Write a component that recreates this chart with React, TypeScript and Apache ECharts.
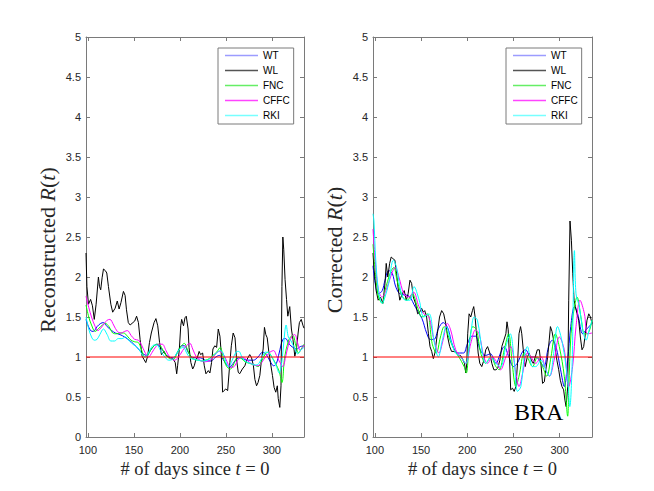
import React, { useEffect, useRef } from "react";
import * as echarts from "echarts";

const X_MIN = 98;
const X_MAX = 335;
const X_TICKS = [100, 150, 200, 250, 300];
const REF_LEVEL = 1;
const SERIES_NAMES = ["WT", "WL", "FNC", "CFFC", "RKI"];
const SERIES_COLORS = ["#0000ff", "#000000", "#00ff00", "#ff00ff", "#00ffff"];
const LEGEND_COLORS = ["#9c9cff", "#555555", "#66ee66", "#ff44ff", "#77ffff"];

// Left panel: reconstructed R(t)
const LEFT_WT: [number, number][] = [[98,1.47],[100,1.40],[103,1.33],[106,1.32],[110,1.38],[114,1.42],[117,1.43],[121,1.38],[126,1.33],[130,1.30],[135,1.28],[140,1.25],[145,1.21],[150,1.16],[155,1.10],[160,1.04],[164,1.02],[168,1.08],[172,1.14],[175,1.16],[179,1.12],[184,1.04],[188,1.0],[193,0.99],[197,1.05],[202,1.14],[205,1.14],[209,1.06],[213,1.0],[218,0.99],[222,0.99],[226,0.97],[230,0.95],[234,0.95],[238,0.99],[243,1.02],[247,0.97],[251,0.90],[254,0.87],[258,0.92],[262,0.98],[266,0.99],[270,0.97],[275,0.96],[280,0.96],[285,1.0],[290,1.06],[294,1.03],[298,0.95],[302,0.89],[305,0.92],[308,1.05],[312,1.22],[315,1.23],[319,1.16],[323,1.12],[327,1.10],[331,1.13],[335,1.14]];
const LEFT_WL: [number, number][] = [[98,2.30],[99,1.88],[100.7,1.66],[103,1.72],[105,1.64],[107,1.47],[109,1.66],[111.5,2.0],[112.7,1.88],[114,1.84],[115.5,1.99],[117,2.10],[119,2.08],[120.6,2.05],[122.4,1.88],[125,1.66],[127,1.56],[129.7,1.61],[132,1.70],[134,1.60],[136,1.68],[138.7,1.82],[140.5,1.77],[142,1.59],[144,1.43],[146,1.40],[149,1.43],[151,1.45],[153,1.51],[155,1.43],[156.8,1.22],[159,1.01],[161,0.97],[163,0.93],[165,1.01],[167,1.18],[169,1.30],[172,1.43],[174,1.48],[176,1.39],[178,1.18],[180,1.03],[183,1.07],[185,1.02],[187.5,1.0],[190,0.99],[193,0.97],[195,0.93],[196.6,0.79],[197.6,0.89],[199.5,1.10],[201,1.39],[202,1.47],[204,1.39],[205.6,1.49],[207,1.51],[209,1.35],[210,1.12],[212,0.93],[214,0.85],[215.7,0.89],[217.5,0.97],[219,0.99],[221,1.07],[222.6,1.03],[224.8,1.05],[226.6,0.89],[228.4,0.79],[231,0.83],[232.7,0.80],[234.5,0.93],[236,1.10],[238,1.14],[240,1.12],[241.8,1.35],[243.6,1.26],[245,1.05],[246.5,0.56],[248,0.58],[250,0.60],[252,0.58],[254.4,0.93],[256,1.14],[258,1.30],[260,1.24],[261.7,0.97],[263.5,0.81],[265,0.79],[268,0.85],[270.7,0.89],[273,0.97],[276,1.03],[278,0.99],[280,0.89],[281.6,0.72],[283.4,0.64],[285,0.68],[287,0.77],[288.8,0.97],[290.6,1.10],[292,1.37],[293.5,1.28],[295,1.24],[296.7,1.07],[298.5,0.93],[300.7,0.77],[302.5,0.62],[304.3,0.56],[306,0.64],[307,0.48],[308.7,0.37],[310,0.64],[311,1.88],[312,2.50],[313,2.34],[314.4,1.97],[316,1.72],[317.4,1.51],[319.5,1.63],[321.3,1.35],[323,1.22],[325,1.01],[326.8,1.10],[328.6,1.30],[330,1.43],[332,1.47],[334,1.39],[335,1.36]];
const LEFT_FNC: [number, number][] = [[98,1.65],[101,1.50],[104,1.40],[108,1.32],[112,1.36],[116,1.40],[119,1.42],[123,1.38],[127,1.30],[131,1.29],[135,1.30],[139,1.30],[143,1.26],[147,1.21],[151,1.19],[155,1.18],[158,1.10],[162,1.0],[165,1.02],[169,1.10],[173,1.15],[177,1.16],[181,1.10],[185,1.02],[189,0.98],[193,0.97],[197,1.05],[201,1.13],[205,1.17],[208,1.10],[212,1.0],[216,0.97],[220,0.96],[224,0.95],[228,0.96],[232,0.98],[236,1.02],[240,1.06],[244,1.12],[247,1.0],[251,0.88],[255,0.85],[259,0.92],[263,1.0],[267,0.98],[271,0.94],[276,0.92],[281,0.90],[285,0.88],[289,0.95],[293,1.04],[296,1.06],[300,1.0],[304,0.92],[308,0.82],[311,0.68],[314,1.0],[318,1.20],[321,1.26],[323,1.27],[326,1.15],[329,1.05],[332,1.10],[335,1.16]];
const LEFT_CFFC: [number, number][] = [[98,1.76],[101,1.62],[104,1.50],[108,1.38],[111,1.33],[114,1.36],[118,1.42],[121,1.46],[124,1.47],[128,1.40],[132,1.32],[136,1.30],[140,1.32],[143,1.33],[147,1.27],[151,1.22],[155,1.21],[158,1.16],[162,1.06],[166,1.0],[170,1.06],[174,1.13],[178,1.16],[181,1.16],[185,1.08],[189,1.0],[194,0.96],[198,0.99],[203,1.08],[207,1.14],[211,1.17],[214,1.10],[218,1.0],[222,0.96],[227,0.94],[231,0.95],[235,0.98],[239,1.04],[243,1.07],[247,1.04],[251,0.95],[255,0.87],[259,0.88],[263,0.96],[267,1.0],[271,0.98],[276,0.93],[281,0.90],[285,0.89],[289,0.93],[293,1.0],[298,1.06],[302,1.08],[305,1.02],[308,0.95],[312,0.88],[315,1.0],[318,1.15],[322,1.26],[325,1.28],[328,1.18],[331,1.08],[335,1.15]];
const LEFT_RKI: [number, number][] = [[98,1.50],[101,1.35],[104,1.25],[107,1.21],[110,1.22],[113,1.28],[117,1.35],[121,1.28],[125,1.20],[129,1.20],[133,1.23],[137,1.23],[141,1.25],[145,1.20],[150,1.15],[154,1.12],[158,1.05],[162,1.0],[165,1.03],[168,1.10],[172,1.15],[175,1.15],[179,1.08],[183,1.01],[188,0.96],[192,0.97],[196,1.03],[200,1.10],[204,1.12],[207,1.06],[211,0.99],[215,0.97],[220,0.96],[225,0.95],[230,0.96],[235,1.0],[240,1.05],[244,1.08],[247,1.05],[250,0.94],[253,0.88],[257,0.96],[261,1.06],[264,1.07],[268,0.99],[272,0.94],[277,0.92],[282,0.90],[286,0.92],[290,1.01],[293,1.06],[297,1.05],[301,0.98],[305,0.88],[308,0.80],[311,0.95],[314,1.30],[315.5,1.40],[318,1.25],[321,1.20],[325,1.10],[328,1.04],[331,1.08],[335,1.12]];

// Right panel: corrected R(t)
const RIGHT_WT: [number, number][] = [[98,2.14],[101,1.88],[104,1.79],[108,1.83],[111,1.96],[115,2.08],[119,2.04],[122,1.90],[126,1.80],[130,1.78],[137,1.76],[144,1.62],[151,1.48],[156,1.30],[160,1.22],[164,1.22],[169,1.36],[174,1.43],[179,1.36],[184,1.15],[190,1.05],[196,1.05],[200,1.16],[205,1.26],[209,1.26],[214,1.09],[220,1.02],[225,1.04],[231,0.92],[236,1.05],[240,1.13],[245,1.0],[250,0.88],[254,0.92],[260,1.07],[263,1.09],[269,1.0],[274,1.0],[280,0.92],[283,0.88],[288,1.13],[292,1.21],[296,1.13],[301,0.84],[305,0.63],[308.7,0.96],[312,1.38],[316,1.63],[319.5,1.54],[325,1.29],[328.6,1.34],[335,1.42]];
const RIGHT_WL: [number, number][] = [[98,2.30],[99,2.12],[101.4,1.83],[103.6,1.71],[106,1.75],[108.7,1.67],[111,1.92],[112.3,2.17],[114,2.0],[116,2.17],[117.7,2.25],[119.5,2.23],[121.7,2.21],[123.5,2.04],[125.3,1.85],[127,1.71],[129.6,1.79],[131.8,1.83],[134,1.71],[136,1.79],[138,1.96],[139.8,1.92],[141.6,1.75],[144,1.67],[146.3,1.54],[148.5,1.56],[150.6,1.61],[152.4,1.56],[154,1.58],[156,1.50],[158,1.29],[159.7,1.13],[161.5,1.07],[163.3,0.98],[165,1.05],[167.6,1.29],[170,1.50],[172.3,1.58],[174.5,1.54],[176.7,1.42],[178.8,1.25],[181,1.13],[183,1.07],[185.7,1.07],[188,1.05],[190.4,1.02],[192.6,1.02],[194.8,0.98],[197,0.92],[198.4,0.80],[199.5,0.92],[200.5,1.29],[202,1.54],[203.8,1.50],[205.6,1.58],[207,1.63],[208.5,1.50],[210,1.29],[211.8,1.05],[213.6,0.92],[215.7,0.88],[218,0.96],[220,1.09],[222,1.13],[224.4,1.05],[226.6,0.92],[228.8,0.84],[231,0.84],[233,0.86],[235.3,0.96],[237.4,1.13],[239.6,1.21],[241.8,1.29],[243,1.44],[244.3,1.34],[245.7,1.0],[247,0.59],[249,0.61],[250.8,0.57],[252.6,0.63],[254.4,0.92],[256,1.29],[257.7,1.38],[259,1.29],[260.6,1.09],[262.7,0.88],[265,1.0],[267,1.05],[269.3,0.96],[271.4,0.92],[273.6,1.0],[275.8,1.09],[278,1.09],[279.7,0.92],[281.5,0.67],[283.4,0.69],[285,0.84],[287,1.0],[288.7,1.21],[290,1.38],[291.7,1.32],[293.5,1.21],[295.3,1.09],[297,0.96],[299,0.84],[300.7,0.71],[302.5,0.63],[304.3,0.59],[305.7,0.46],[307,0.38],[308.7,0.63],[309.8,1.71],[311.2,2.70],[312.7,2.46],[314.2,2.04],[315.6,1.71],[317,1.63],[318.8,1.54],[320.6,1.46],[322.4,1.25],[324.2,1.09],[326,1.13],[327.8,1.29],[329.6,1.46],[331.5,1.54],[333.3,1.50],[335,1.42]];
const RIGHT_FNC: [number, number][] = [[98,2.41],[101,2.0],[104,1.75],[108,1.67],[111,1.83],[117,2.06],[120.6,2.12],[124,1.96],[130,1.75],[135,1.71],[140.5,1.79],[146,1.63],[151,1.50],[156.8,1.54],[162,1.17],[166.5,1.05],[171,1.25],[175,1.38],[180,1.25],[185.7,1.09],[191,1.0],[196.6,0.88],[199,0.80],[202,1.13],[206,1.38],[210,1.34],[214.6,1.05],[220,0.92],[225.5,1.0],[231,0.88],[234.5,0.84],[240,1.09],[244.7,1.29],[249,0.88],[252.6,0.63],[256,0.76],[261.7,1.05],[265,1.0],[270.7,0.88],[276,1.0],[281.5,0.88],[286,0.76],[290.6,1.0],[295.3,1.29],[299.6,1.13],[305,0.76],[308.7,0.26],[309.8,0.59],[312.3,1.29],[316,1.63],[318.8,1.75],[323,1.50],[326.8,1.29],[330,1.29],[335,1.46]];
const RIGHT_CFFC: [number, number][] = [[98,2.60],[101,2.12],[104,1.83],[108,1.75],[112,1.83],[117,2.0],[122,2.12],[126,2.0],[131.5,1.79],[137,1.75],[142,1.81],[147.7,1.63],[153,1.54],[158.6,1.50],[164,1.21],[169.4,1.05],[173.8,1.21],[178.5,1.42],[182,1.34],[187.5,1.09],[193,1.0],[198.4,0.92],[203.8,1.17],[209,1.34],[212.8,1.29],[218,1.0],[222,0.92],[227,1.0],[232.7,0.92],[236,0.84],[241.8,1.0],[247,1.13],[252.6,0.80],[256,0.63],[260,0.80],[265,1.05],[269,1.0],[274,0.92],[280,1.0],[285,0.84],[289,0.76],[294,0.96],[299.6,1.25],[305,1.09],[309.8,0.63],[314,0.88],[317.7,1.38],[322,1.71],[326.8,1.54],[330,1.29],[335,1.30]];
const RIGHT_RKI: [number, number][] = [[98,2.79],[99,2.70],[101,2.21],[104,1.83],[108,1.67],[111,1.75],[115,1.92],[120,2.21],[123.5,2.12],[128,1.83],[133,1.71],[138,1.71],[142.3,1.88],[148,1.71],[153,1.50],[158.6,1.54],[164,1.21],[168.7,1.0],[173,1.21],[177.4,1.38],[182,1.21],[187.5,1.05],[193,1.0],[198.4,0.92],[203.8,1.29],[207.4,1.50],[211,1.46],[216.5,1.05],[220,0.92],[225.5,1.0],[231,0.92],[236,0.88],[241.8,1.13],[246.5,1.29],[250.8,0.96],[254.4,0.57],[258,0.63],[261.7,1.0],[265,1.13],[270.7,0.88],[274,0.88],[280,0.96],[285,0.84],[289,0.76],[294,1.09],[297.6,1.38],[303,1.17],[308.7,0.71],[311,0.38],[313.4,0.88],[316,2.33],[317.7,1.79],[321.3,1.63],[325,1.34],[328.6,1.21],[332,1.34],[335,1.46]];

const LEFT_DATA = [LEFT_WT, LEFT_WL, LEFT_FNC, LEFT_CFFC, LEFT_RKI];
const RIGHT_DATA = [RIGHT_WT, RIGHT_WL, RIGHT_FNC, RIGHT_CFFC, RIGHT_RKI];
const REF_LINE: [number, number][] = [[X_MIN, REF_LEVEL], [X_MAX, REF_LEVEL]];

const Y_NAMES = ["Reconstructed {i|R}({i|t})", "Corrected {i|R}({i|t})"];
const X_NAME = "# of days since {i|t} = 0";
const PANEL_TAG = "BRA";

const SERIF = "'Liberation Serif', 'Times New Roman', serif";
const SANS = "'Liberation Sans', Arial, Helvetica, sans-serif";
const AXIS_COLOR = "#7a7a7a";
const TEXT_COLOR = "#262626";

export default function App() {
  const ref = useRef<HTMLDivElement>(null);

  useEffect(() => {
    if (!ref.current) return;
    const chart = echarts.init(ref.current, undefined, { renderer: "svg" });

    const grids = [
      { left: 86, top: 37, width: 218, height: 400 },
      { left: 373, top: 37, width: 219, height: 400 },
    ];

    const xAxis: any[] = [];
    const yAxis: any[] = [];
    grids.forEach((_, gi) => {
      const base = {
        gridIndex: gi,
        type: "value",
        min: X_MIN,
        max: X_MAX,
        splitLine: { show: false },
        axisLine: { show: true, onZero: false, lineStyle: { color: AXIS_COLOR, width: 1 } },
        axisTick: { show: true, inside: true, length: 4, customValues: X_TICKS, lineStyle: { color: AXIS_COLOR } },
      };
      xAxis.push({
        ...base,
        position: "bottom",
        axisLabel: { show: true, customValues: X_TICKS, margin: 7, fontSize: 11, fontFamily: SANS, color: TEXT_COLOR },
        name: X_NAME,
        nameLocation: "middle",
        nameGap: 21,
        nameTextStyle: {
          fontFamily: SERIF,
          fontSize: 18.5,
          color: TEXT_COLOR,
          rich: { i: { fontFamily: SERIF, fontSize: 18.5, fontStyle: "italic", color: TEXT_COLOR } },
        },
      });
      xAxis.push({ ...base, position: "top", axisLabel: { show: false } });

      const ybase = {
        gridIndex: gi,
        type: "value",
        min: 0,
        max: 5,
        interval: 0.5,
        splitLine: { show: false },
        axisLine: { show: true, onZero: false, lineStyle: { color: AXIS_COLOR, width: 1 } },
        axisTick: { show: true, inside: true, length: 4, lineStyle: { color: AXIS_COLOR } },
      };
      yAxis.push({
        ...ybase,
        position: "left",
        axisLabel: { show: true, margin: 5, fontSize: 11, fontFamily: SANS, color: TEXT_COLOR },
        name: Y_NAMES[gi],
        nameLocation: "middle",
        nameGap: 28,
        nameTextStyle: {
          fontFamily: SERIF,
          fontSize: 22,
          color: TEXT_COLOR,
          padding: [0, 26, 0, 0],
          rich: { i: { fontFamily: SERIF, fontSize: 22, fontStyle: "italic", color: TEXT_COLOR } },
        },
      });
      yAxis.push({ ...ybase, position: "right", axisLabel: { show: false } });
    });

    const series: any[] = [];
    [LEFT_DATA, RIGHT_DATA].forEach((panel, gi) => {
      panel.forEach((data, si) => {
        series.push({
          type: "line",
          name: SERIES_NAMES[si],
          xAxisIndex: gi * 2,
          yAxisIndex: gi * 2,
          data,
          symbol: "none",
          smooth: si === 1 ? false : 0.35,
          lineStyle: { color: SERIES_COLORS[si], width: 1 },
          itemStyle: { color: SERIES_COLORS[si] },
          silent: true,
        });
      });
      series.push({
        type: "line",
        name: "ref",
        xAxisIndex: gi * 2,
        yAxisIndex: gi * 2,
        data: REF_LINE,
        symbol: "none",
        lineStyle: { color: "#ff0000", width: 1 },
        itemStyle: { color: "#ff0000" },
        silent: true,
      });
    });

    const legendData = SERIES_NAMES.map((n, i) => ({
      name: n,
      icon: "rect",
      itemStyle: { color: LEGEND_COLORS[i] },
    }));

    const legendBase = {
      orient: "vertical",
      data: legendData,
      backgroundColor: "#ffffff",
      borderColor: "#7a7a7a",
      borderWidth: 1,
      borderRadius: 0,
      padding: [1, 4, 2, 7],
      itemWidth: 33,
      itemHeight: 1.5,
      itemGap: 2,
      selectedMode: false,
      textStyle: { fontSize: 10, lineHeight: 13, fontFamily: SANS, color: "#000000", padding: [0, 0, 0, 0] },
    };

    chart.setOption({
      animation: false,
      backgroundColor: "#ffffff",
      grid: grids,
      xAxis,
      yAxis,
      series,
      legend: [
        { ...legendBase, left: 218, top: 48 },
        { ...legendBase, left: 506, top: 48 },
      ],
      graphic: [
        {
          type: "text",
          left: 514,
          top: 400,
          style: { text: PANEL_TAG, fontFamily: SERIF, fontSize: 24, fill: "#000000" },
          z: 100,
        },
      ],
    });

    return () => chart.dispose();
  }, []);

  return (
    <div
      ref={ref}
      style={{ position: "fixed", left: 0, top: 0, width: 654, height: 491, background: "#fff" }}
    />
  );
}
